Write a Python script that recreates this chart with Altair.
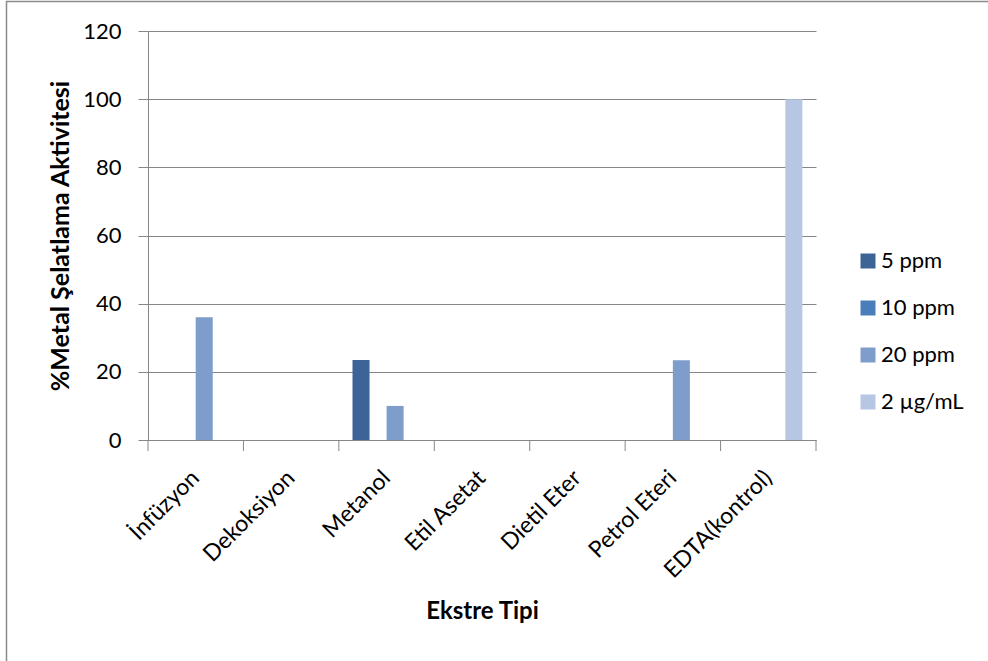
import altair as alt
import pandas as pd

categories = ["İnfüzyon", "Dekoksiyon", "Metanol", "Etil Asetat",
              "Dietil Eter", "Petrol Eteri", "EDTA(kontrol)"]
series = ["5 ppm", "10 ppm", "20 ppm", "2 µg/mL"]
colors = ["#3C6496", "#4A7EBB", "#7E9DCB", "#B7C6E2"]

v_5ppm = [0, 0, 23.5, 0, 0, 0, 0]
v_10ppm = [0, 0, 0, 0, 0, 0, 0]
v_20ppm = [36, 0, 10, 0, 0, 23.4, 0]
v_2ug = [0, 0, 0, 0, 0, 0, 100]
y_ticks = [0, 20, 40, 60, 80, 100, 120]

rows = []
for s, vals in zip(series, [v_5ppm, v_10ppm, v_20ppm, v_2ug]):
    for c, v in zip(categories, vals):
        rows.append({"Ekstre": c, "Seri": s, "Deger": v})
df = pd.DataFrame(rows)
tick_df = pd.DataFrame({"Ekstre": categories})

W, H = 668, 409
FONT = "Lato"
GRAY = "#868686"

x_scale = alt.Scale(domain=categories, paddingInner=0, paddingOuter=0)
x_axis = alt.Axis(
    title="Ekstre Tipi", ticks=False, domainColor=GRAY, domainWidth=1,
    labelAngle=-45, labelAlign="right", labelBaseline="middle",
    labelPadding=34, labelFontSize=23, labelColor="black", labelFont=FONT,
    titleFont=FONT, titleFontSize=24, titleFontWeight="bold", titleColor="black",
    titleBaseline="alphabetic", titleY=178, titleX=W / 2,
)

bars = alt.Chart(df).mark_bar().encode(
    x=alt.X("Ekstre:N", sort=categories, scale=x_scale, axis=x_axis),
    xOffset=alt.XOffset("Seri:N", sort=series,
                        scale=alt.Scale(domain=series, paddingInner=0, paddingOuter=0.8)),
    y=alt.Y("Deger:Q", scale=alt.Scale(domain=[0, 120]),
            axis=alt.Axis(
                title="%Metal Şelatlama Aktivitesi", values=y_ticks,
                grid=True, gridColor=GRAY, gridWidth=1,
                domainColor=GRAY, tickColor=GRAY, tickSize=10,
                labelFontSize=22, labelColor="black", labelFont=FONT, labelPadding=17,
                titleFont=FONT, titleFontSize=25, titleFontWeight="bold",
                titleColor="black", titleX=-75, titleY=H / 2,
                titleBaseline="bottom", titleAngle=-90,
            )),
    color=alt.Color("Seri:N", sort=series,
                    scale=alt.Scale(domain=series, range=colors),
                    legend=alt.Legend(
                        title=None, orient="none", legendX=709, legendY=219,
                        symbolType="square", symbolSize=225, symbolStrokeWidth=0,
                        labelFontSize=22, labelFont=FONT, labelColor="black",
                        labelOffset=2, rowPadding=25, padding=0,
                    )),
)

ticks = alt.Chart(tick_df).mark_rule(color=GRAY, strokeWidth=1).encode(
    x=alt.X("Ekstre:N", sort=categories, scale=x_scale, axis=x_axis, bandPosition=0),
    y=alt.value(H),
    y2=alt.value(H + 11),
)

end_tick = alt.Chart(alt.Data(values=[{"a": 1}])).mark_rule(color=GRAY, strokeWidth=1).encode(
    x=alt.value(W), y=alt.value(H), y2=alt.value(H + 11),
)

border = alt.Chart(alt.Data(values=[{"a": 1}])).mark_rect(
    fill=None, stroke="#8A8A8A", strokeWidth=1.5
).encode(
    x=alt.value(-141.5), y=alt.value(-29.5), x2=alt.value(1000), y2=alt.value(900),
)

chart = alt.layer(border, bars, ticks, end_tick).properties(
    width=W, height=H,
    autosize=alt.AutoSizeParams(type="none"),
    padding={"left": 148, "top": 31, "right": 988 - 148 - W, "bottom": 661 - 31 - H},
    background="white",
).configure_view(stroke=None)

chart.save("out.html", embed_options={"renderer": "svg", "actions": False})
